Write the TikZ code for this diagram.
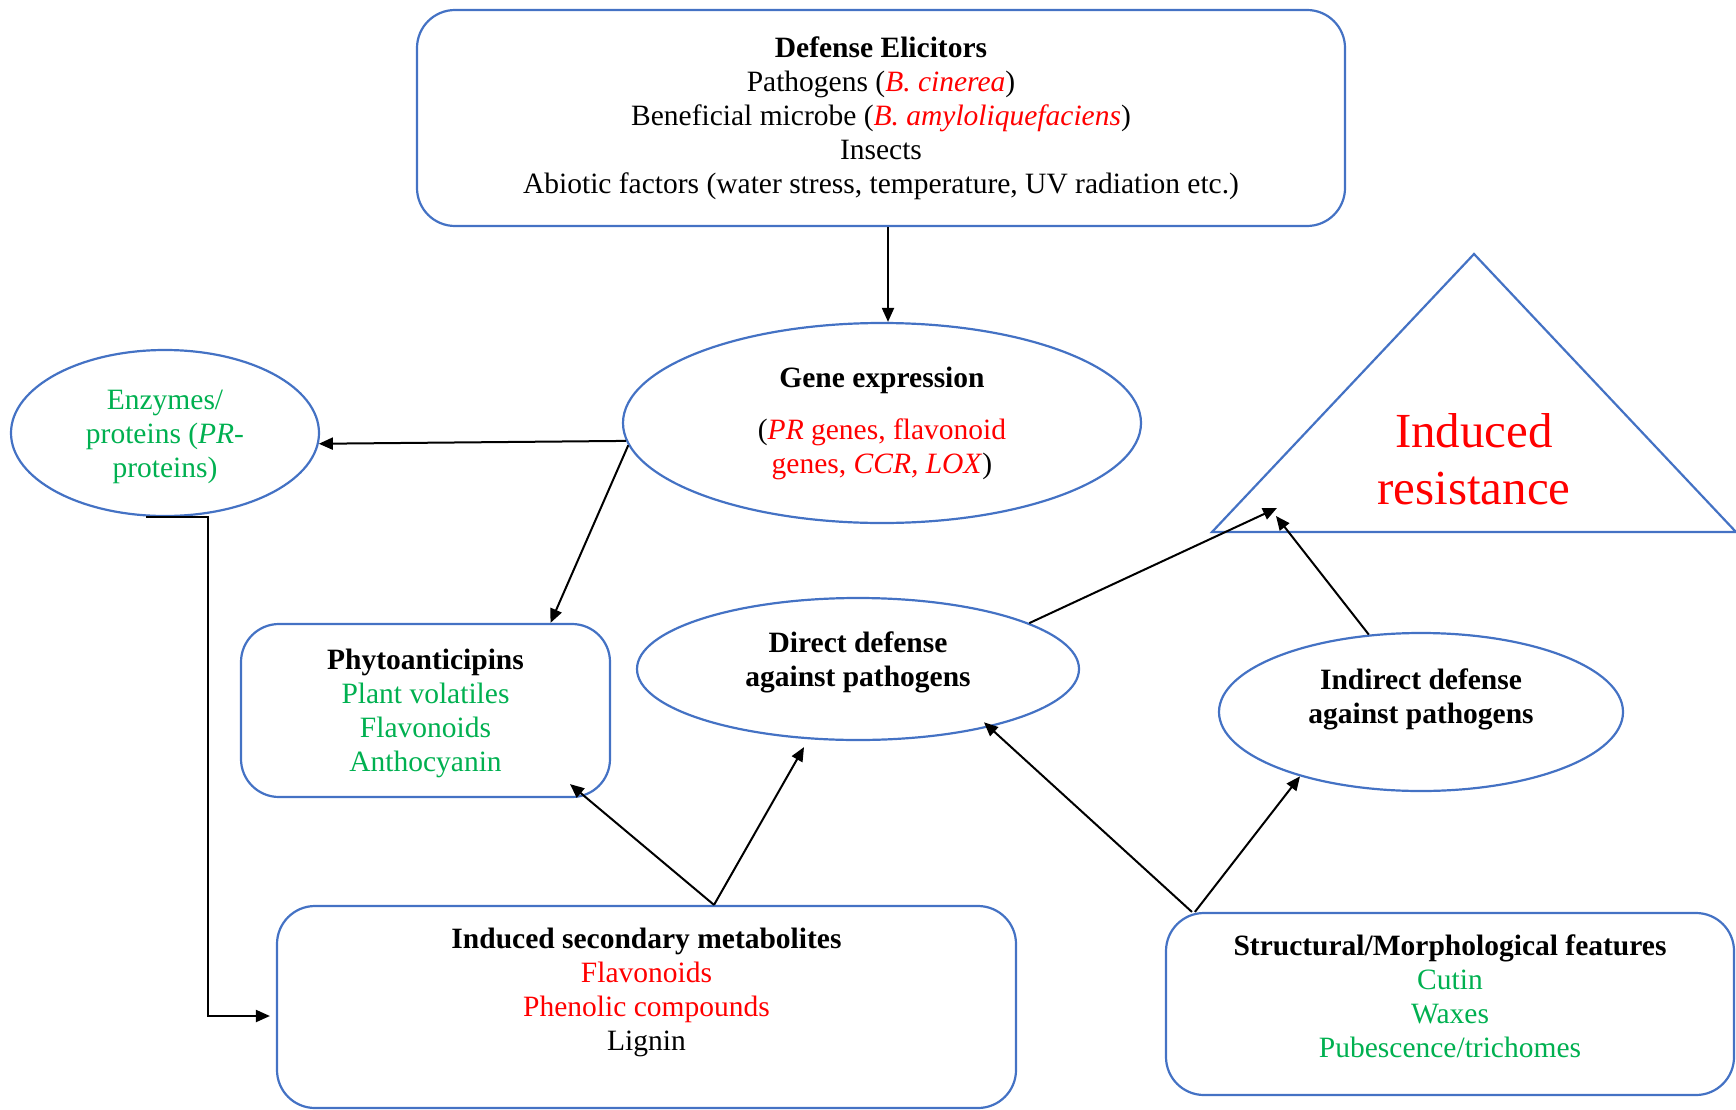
\documentclass[tikz,border=0pt]{standalone}
\usepackage{fontspec}
\setmainfont{Liberation Serif}
\usepackage{xcolor}
\usetikzlibrary{positioning, arrows.meta, shapes.geometric, calc}

\definecolor{lineblue}{RGB}{68,114,196}
\definecolor{textgreen}{RGB}{0,176,80}

\begin{document}
\begin{tikzpicture}[
        x=1pt, y=-1pt,
        txt/.style   = {font=\fontsize{29.5}{34}\selectfont, align=center},
        box/.style   = {txt, draw=lineblue, line width=2.2pt, rectangle, rounded corners=38pt, inner sep=0pt},
        oval/.style  = {txt, draw=lineblue, line width=2.2pt, ellipse, inner sep=0pt},
        arrow/.style = {-{Triangle[length=14pt, width=12pt]}, line width=2pt},
    ]
        \useasboundingbox (0,0) rectangle (1736,1110);

        \node[box, minimum width=928pt, minimum height=216pt] (elic) at (881,118)
            {\textbf{Defense Elicitors}\\Pathogens (\textcolor{red}{\textit{B. cinerea}})\\Beneficial microbe (\textcolor{red}{\textit{B. amyloliquefaciens}})\\Insects\\Abiotic factors (water stress, temperature, UV radiation etc.)};

        \node[oval, minimum width=518pt, minimum height=200pt] (gene) at (882,423)
            {\textbf{Gene expression}\\[18pt](\textcolor{red}{\textit{PR} genes, flavonoid}\\\textcolor{red}{genes, \textit{CCR, LOX}})};

        \node[oval, text=textgreen, minimum width=308pt, minimum height=166pt, text height=95pt, text depth=6.4pt] (enz) at (165,433)
            {Enzymes/\\proteins (\textit{PR}-\\proteins)};

        \node[box, minimum width=369pt, minimum height=173pt, text height=129pt, text depth=6.4pt] (phyto) at (425.5,710.5)
            {\textbf{Phytoanticipins}\\\textcolor{textgreen}{Plant volatiles}\\\textcolor{textgreen}{Flavonoids}\\\textcolor{textgreen}{Anthocyanin}};

        \node[oval, minimum width=442pt, minimum height=142pt, text height=56pt, text depth=22pt] (direct) at (858,669)
            {\textbf{Direct defense}\\\textbf{against pathogens}};

        \node[oval, minimum width=404pt, minimum height=158pt, text height=56pt, text depth=34pt] (indirect) at (1421,712)
            {\textbf{Indirect defense}\\\textbf{against pathogens}};

        \node[box, minimum width=739pt, minimum height=202pt, text height=124pt, text depth=38pt] (meta) at (646.5,1007)
            {\textbf{Induced secondary metabolites}\\\textcolor{red}{Flavonoids}\\\textcolor{red}{Phenolic compounds}\\Lignin};

        \node[box, minimum width=568pt, minimum height=182pt, text height=122pt, text depth=15pt] (struct) at (1450,1004)
            {\textbf{Structural/Morphological features}\\\textcolor{textgreen}{Cutin}\\\textcolor{textgreen}{Waxes}\\\textcolor{textgreen}{Pubescence/trichomes}};

        \coordinate (apex) at (1474,254);
        \coordinate (baseL) at (1212,532);
        \coordinate (baseR) at (1736,532);
        \draw[lineblue, line width=2.2pt] (apex) -- (baseR) -- (baseL) -- cycle;
        \node[font=\fontsize{49}{57}\selectfont, text=red, align=center] (resist) at (1474,459) {Induced\\resistance};
        \coordinate (hitA) at ($(baseL)+(65,-24)$);
        \coordinate (hitB) at ($(baseL)+(64,-16)$);

        \draw[arrow] ([xshift=7pt]elic.south) -- ([xshift=7pt]elic.south |- gene.north);
        \draw[arrow] (gene.184) -- (enz.-4);
        \draw[arrow] (gene.185) -- ([xshift=125pt]phyto.north);
        \draw[arrow] ([xshift=-19pt]enz.south) -- ++(62,0) |- ([xshift=-6pt, yshift=-9pt]meta.west);
        \draw[arrow] ([xshift=67.5pt]meta.north) -- ([xshift=144.5pt, yshift=14pt]phyto.south);
        \draw[arrow] ([xshift=67.5pt]meta.north) -- ([xshift=-54pt, yshift=-6pt]direct.south);
        \draw[arrow] ([xshift=27pt]struct.north west) -- ([xshift=-9pt, yshift=4pt]direct.-23);
        \draw[arrow] ([xshift=30pt]struct.north west) -- (indirect.208);
        \draw[arrow] (direct.15.5) -- (hitA);
        \draw[arrow] (indirect.124) -- (hitB);
    \end{tikzpicture}
\end{document}
